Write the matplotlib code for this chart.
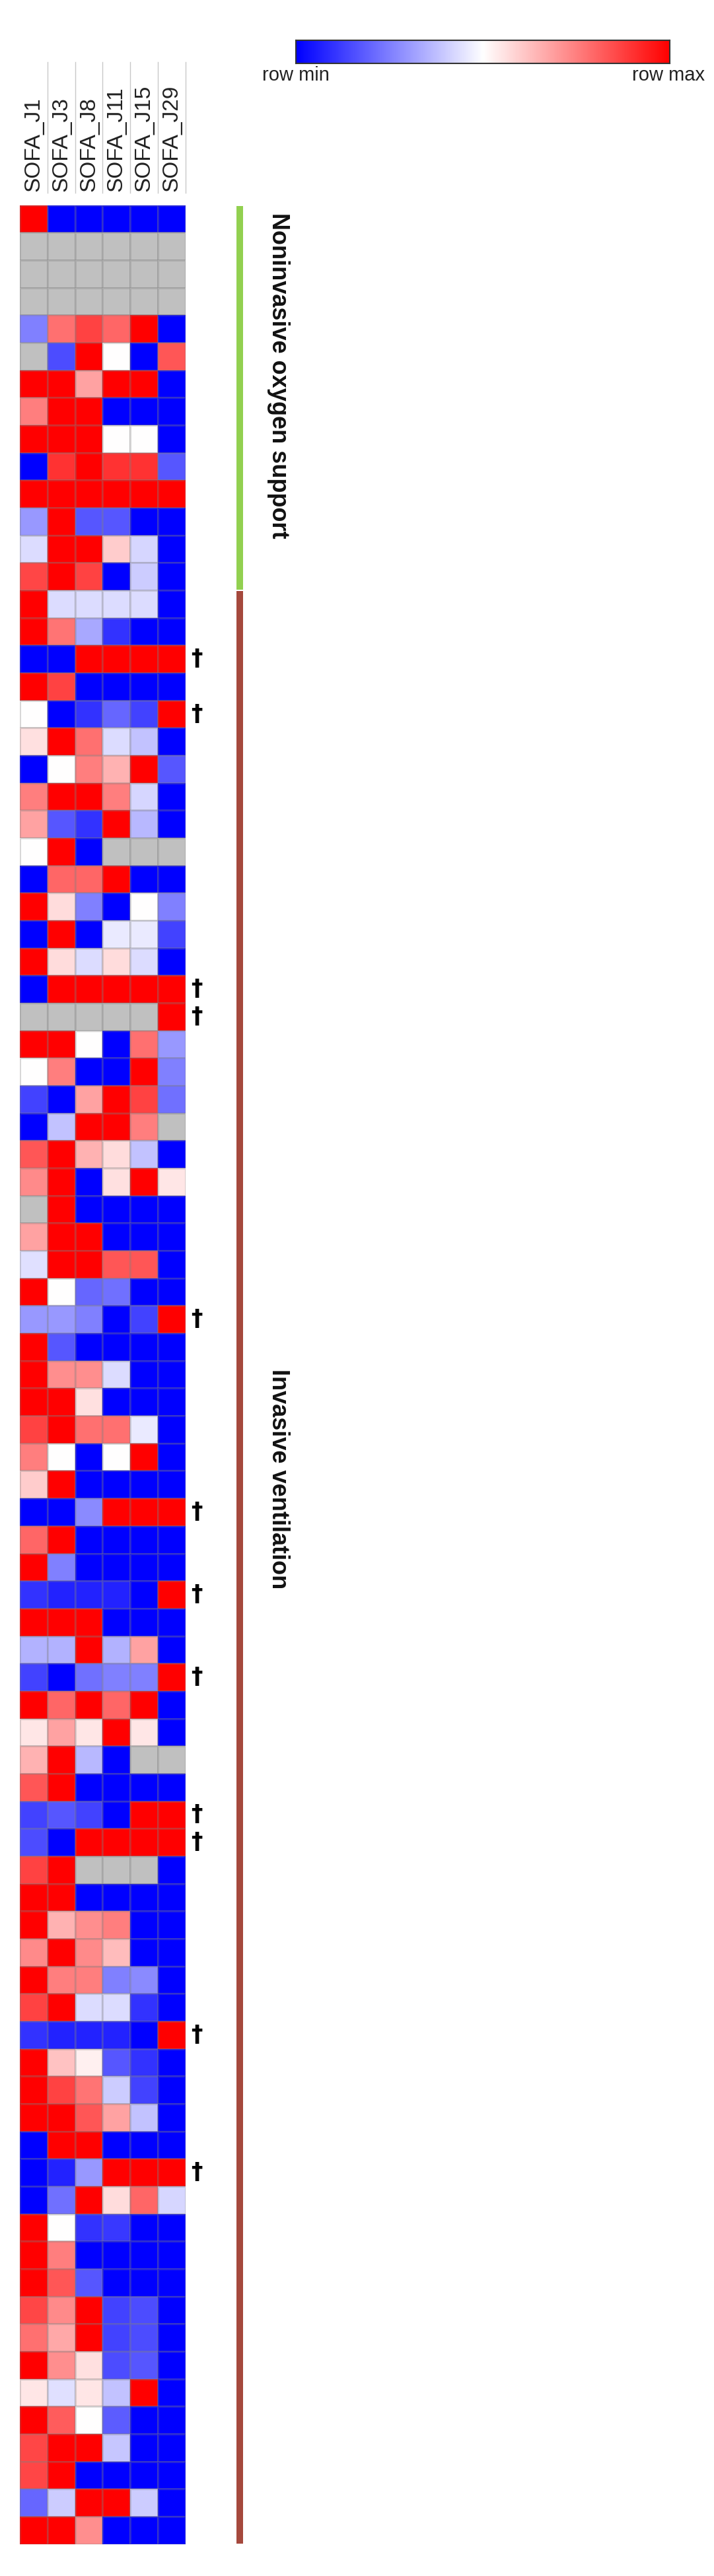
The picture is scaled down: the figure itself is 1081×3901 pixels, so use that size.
import numpy as np
import matplotlib
matplotlib.use('Agg')
import matplotlib.pyplot as plt
from matplotlib.colors import LinearSegmentedColormap

plt.rcParams['font.family'] = ['Liberation Sans', 'DejaVu Sans']

nan = np.nan

# columnas (dias de SOFA)
columns = ['SOFA_J1', 'SOFA_J3', 'SOFA_J8', 'SOFA_J11', 'SOFA_J15', 'SOFA_J29']

# valores relativos por fila: 0 = row min, 1 = row max, nan = sin dato (gris)
noninvasive = [
    [1, 0, 0, 0, 0, 0],
    [nan, nan, nan, nan, nan, nan],
    [nan, nan, nan, nan, nan, nan],
    [nan, nan, nan, nan, nan, nan],
    [0.25, 0.78, 0.87, 0.8, 1, 0],
    [nan, 0.15, 1, 0.5, 0, 0.83],
    [1, 1, 0.68, 1, 1, 0],
    [0.75, 1, 1, 0, 0, 0],
    [1, 1, 1, 0.5, 0.5, 0],
    [0, 0.9, 1, 0.9, 0.9, 0.17],
    [1, 1, 1, 1, 1, 1],
    [0.3, 1, 0.17, 0.17, 0, 0],
    [0.43, 1, 1, 0.6, 0.42, 0],
    [0.86, 1, 0.87, 0, 0.4, 0],
]

invasive = [
    [1, 0.43, 0.43, 0.43, 0.43, 0],
    [1, 0.77, 0.33, 0.1, 0, 0],
    [0, 0, 1, 1, 1, 1],
    [1, 0.87, 0, 0, 0, 0],
    [0.5, 0, 0.1, 0.2, 0.13, 1],
    [0.56, 1, 0.78, 0.43, 0.38, 0],
    [0, 0.5, 0.75, 0.65, 1, 0.17],
    [0.75, 1, 1, 0.75, 0.42, 0],
    [0.68, 0.17, 0.1, 1, 0.36, 0],
    [0.5, 1, 0, nan, nan, nan],
    [0, 0.8, 0.8, 1, 0, 0],
    [1, 0.57, 0.25, 0, 0.5, 0.25],
    [0, 1, 0, 0.46, 0.46, 0.13],
    [1, 0.57, 0.43, 0.57, 0.43, 0],
    [0, 1, 1, 1, 1, 1],
    [nan, nan, nan, nan, nan, 1],
    [1, 1, 0.5, 0, 0.78, 0.3],
    [0.5, 0.75, 0, 0, 1, 0.25],
    [0.13, 0, 0.68, 1, 0.87, 0.22],
    [0, 0.38, 1, 1, 0.75, nan],
    [0.83, 1, 0.65, 0.57, 0.38, 0],
    [0.73, 1, 0, 0.56, 1, 0.55],
    [nan, 1, 0, 0, 0, 0],
    [0.68, 1, 1, 0, 0, 0],
    [0.44, 1, 1, 0.83, 0.83, 0],
    [1, 0.5, 0.2, 0.22, 0, 0],
    [0.3, 0.3, 0.25, 0, 0.13, 1],
    [1, 0.17, 0, 0, 0, 0],
    [1, 0.72, 0.72, 0.43, 0, 0],
    [1, 1, 0.56, 0, 0, 0],
    [0.87, 1, 0.78, 0.78, 0.46, 0],
    [0.75, 0.5, 0, 0.5, 1, 0],
    [0.6, 1, 0, 0, 0, 0],
    [0, 0, 0.27, 1, 1, 1],
    [0.8, 1, 0, 0, 0, 0],
    [1, 0.25, 0, 0, 0, 0],
    [0.1, 0.07, 0.07, 0.07, 0, 1],
    [1, 1, 1, 0, 0, 0],
    [0.35, 0.35, 1, 0.35, 0.68, 0],
    [0.13, 0, 0.22, 0.25, 0.25, 1],
    [1, 0.8, 1, 0.8, 1, 0],
    [0.55, 0.68, 0.55, 1, 0.55, 0],
    [0.65, 1, 0.36, 0, nan, nan],
    [0.83, 1, 0, 0, 0, 0],
    [0.13, 0.17, 0.13, 0, 1, 1],
    [0.15, 0, 1, 1, 1, 1],
    [0.87, 1, nan, nan, nan, 0],
    [1, 1, 0, 0, 0, 0],
    [1, 0.65, 0.72, 0.75, 0, 0],
    [0.73, 1, 0.73, 0.63, 0, 0],
    [1, 0.75, 0.75, 0.25, 0.27, 0],
    [0.87, 1, 0.43, 0.43, 0.1, 0],
    [0.1, 0.07, 0.07, 0.07, 0, 1],
    [1, 0.62, 0.53, 0.17, 0.1, 0],
    [1, 0.87, 0.77, 0.4, 0.13, 0],
    [1, 1, 0.83, 0.68, 0.38, 0],
    [0, 1, 1, 0, 0, 0],
    [0, 0.07, 0.3, 1, 1, 1],
    [0, 0.22, 1, 0.57, 0.8, 0.42],
    [1, 0.5, 0.1, 0.11, 0, 0],
    [1, 0.75, 0, 0, 0, 0],
    [1, 0.83, 0.17, 0, 0, 0],
    [0.86, 0.73, 1, 0.13, 0.15, 0],
    [0.78, 0.67, 1, 0.13, 0.15, 0],
    [1, 0.72, 0.56, 0.15, 0.17, 0],
    [0.55, 0.44, 0.55, 0.38, 1, 0],
    [1, 0.82, 0.5, 0.18, 0, 0],
    [0.86, 1, 1, 0.39, 0, 0],
    [0.86, 1, 0, 0, 0, 0],
    [0.2, 0.4, 1, 1, 0.4, 0],
    [1, 1, 0.72, 0, 0, 0],
]

# filas (1 = primera) de pacientes fallecidos
deceased = [17, 19, 29, 30, 41, 48, 51, 54, 59, 60, 67, 72]

groups = ['Noninvasive oxygen support', 'Invasive ventilation']
group_colors = ['#92d050', '#a5493d']

# ---- figura ----
W, H = 1081, 3901
fig = plt.figure(figsize=(W / 100, H / 100), dpi=100)


def box(x0, y0, x1, y1):
    # caja en pixeles (origen arriba-izquierda) -> fraccion de figura
    return [x0 / W, 1 - y1 / H, (x1 - x0) / W, (y1 - y0) / H]


cmap = LinearSegmentedColormap.from_list('rowminmax', ['#0000ff', '#ffffff', '#ff0000'])
cmap.set_bad('#c0c0c0')

data = np.array(noninvasive + invasive, dtype=float)
nrows, ncols = data.shape

ax = fig.add_axes(box(30, 310.7, 281, 3852.6))
ax.set_facecolor('#c0c0c0')
ax.pcolormesh(np.ma.masked_invalid(data), cmap=cmap, vmin=0, vmax=1,
              edgecolors=(0.5, 0.5, 0.5, 0.3), linewidth=1.0)
ax.set_xlim(0, ncols)
ax.set_ylim(nrows, 0)
for s in ax.spines.values():
    s.set_visible(False)
ax.set_yticks([])
ax.xaxis.tick_top()
ax.set_xticks(np.arange(ncols) + 0.5)
ax.set_xticklabels(columns, rotation=90, fontsize=24, color='#222222')
ax.tick_params(axis='x', length=0, pad=15)

# separadores de etiquetas de columna
for c in range(1, ncols + 1):
    ax.plot([c, c], [-5.2, -0.45], color='#c8c8c8', lw=1, clip_on=False)

# cruces (fallecidos)
for r in deceased:
    ax.text(6.41, r - 0.5, '\u2020', fontsize=25, fontweight='bold',
            family='DejaVu Sans', ha='center', va='center', clip_on=False)

# barras de grupo y etiquetas
sizes = [len(noninvasive), len(invasive)]
start = 0
label_y = [6.2, 46.3]
for name, n, col, ly in zip(groups, sizes, group_colors, label_y):
    ax.plot([7.96, 7.96], [start + 0.02, start + n - 0.02], color=col, lw=7.2,
            solid_capstyle='butt', clip_on=False)
    ax.text(9.37, ly, name, rotation=-90, fontsize=26, fontweight='bold',
            ha='center', va='center', clip_on=False, color='#111111')
    start += n

# barra de color
cax = fig.add_axes(box(448, 61, 1014, 96))
grad = np.linspace(0, 1, 256).reshape(1, -1)
cax.imshow(grad, aspect='auto', cmap=cmap)
cax.set_xticks([])
cax.set_yticks([])
for s in cax.spines.values():
    s.set_color('#333333')
    s.set_linewidth(1.5)
fig.text(448 / W, 1 - 100 / H, 'row min', ha='center', va='top', fontsize=21, color='#222222')
fig.text(1012 / W, 1 - 100 / H, 'row max', ha='center', va='top', fontsize=21, color='#222222')

fig.savefig('out.png', dpi=100, facecolor='white')
